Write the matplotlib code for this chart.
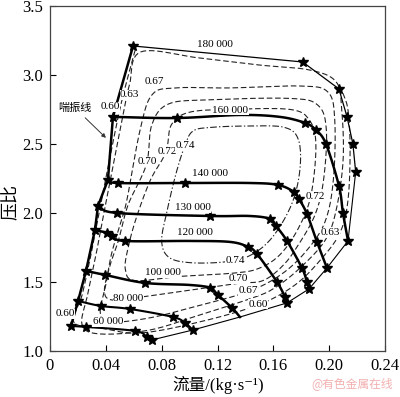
import numpy as np
import matplotlib
matplotlib.use('Agg')
import matplotlib.pyplot as plt

plt.rcParams['font.family'] = ['Liberation Serif', 'Noto Sans CJK SC', 'DejaVu Serif']

# speed lines (rpm): flow kg/s, pressure ratio, star marker flags
speeds = [180000, 160000, 140000, 130000, 120000, 100000, 80000, 60000]
speed_x = {
    180000: [0.0595, 0.181, 0.207, 0.2128, 0.217, 0.219],
    160000: [0.0451, 0.091, 0.136, 0.1648, 0.1827, 0.1905, 0.1977, 0.207, 0.2099, 0.2135],
    140000: [0.0415, 0.0487, 0.0967, 0.143, 0.1633, 0.1748, 0.1784, 0.1841, 0.1913, 0.1984],
    130000: [0.0344, 0.048, 0.1146, 0.143, 0.1576, 0.1619, 0.1698, 0.1805, 0.1841, 0.1855],
    120000: [0.0322, 0.0408, 0.0444, 0.0537, 0.1003, 0.129, 0.1418, 0.1483, 0.1626, 0.1683, 0.1698],
    100000: [0.0258, 0.0394, 0.068, 0.1003, 0.1146, 0.1203, 0.1304, 0.1361],
    80000: [0.0201, 0.0365, 0.0573, 0.0881, 0.0967, 0.1024],
    60000: [0.015, 0.0258, 0.0609, 0.0695, 0.0731],
}
speed_y = {
    180000: [3.21, 3.094, 2.899, 2.696, 2.50, 2.297],
    160000: [2.696, 2.688, 2.71, 2.696, 2.652, 2.601, 2.50, 2.196, 2.0, 1.797],
    140000: [2.239, 2.217, 2.217, 2.217, 2.203, 2.152, 2.101, 1.993, 1.790, 1.601],
    130000: [2.051, 2.0, 1.978, 1.978, 1.957, 1.906, 1.797, 1.601, 1.50, 1.449],
    120000: [1.877, 1.855, 1.833, 1.797, 1.797, 1.79, 1.754, 1.703, 1.50, 1.391, 1.348],
    100000: [1.580, 1.551, 1.493, 1.478, 1.457, 1.406, 1.312, 1.246],
    80000: [1.362, 1.326, 1.304, 1.246, 1.203, 1.152],
    60000: [1.181, 1.174, 1.145, 1.101, 1.080],
}
speed_star = {
    180000: [1, 1, 1, 1, 1, 1],
    160000: [1, 1, 0, 0, 1, 1, 1, 1, 1, 1],
    140000: [1, 1, 1, 0, 1, 1, 1, 1, 1, 1],
    130000: [1, 1, 1, 0, 1, 1, 1, 1, 1, 1],
    120000: [1, 1, 1, 1, 0, 0, 1, 1, 1, 1, 1],
    100000: [1, 1, 1, 0, 1, 1, 1, 0],
    80000: [1, 1, 1, 1, 1, 1],
    60000: [1, 1, 1, 1, 1],
}
speed_label_pos = {
    180000: (0.118, 3.222), 160000: (0.129, 2.746), 140000: (0.1146, 2.283),
    130000: (0.1024, 2.036), 120000: (0.104, 1.855), 100000: (0.081, 1.565),
    80000: (0.056, 1.377), 60000: (0.0415, 1.21),
}

# efficiency contours (closed loops except 0.60)
eff_074_x = [0.096, 0.102, 0.115, 0.143, 0.168, 0.178, 0.179, 0.173, 0.159, 0.143, 0.125, 0.100, 0.085, 0.080, 0.084, 0.090]
eff_074_y = [2.47, 2.59, 2.62, 2.63, 2.62, 2.53, 2.31, 2.06, 1.82, 1.69, 1.645, 1.64, 1.68, 1.80, 2.02, 2.275]
eff_072_x = [0.083, 0.087, 0.100, 0.129, 0.172, 0.186, 0.1905, 0.187, 0.178, 0.165, 0.150, 0.1325, 0.093, 0.061, 0.054, 0.056, 0.062, 0.072]
eff_072_y = [2.44, 2.64, 2.73, 2.75, 2.75, 2.67, 2.49, 2.13, 1.89, 1.70, 1.60, 1.565, 1.54, 1.51, 1.59, 1.75, 1.97, 2.24]
eff_070_x = [0.069, 0.073, 0.085, 0.115, 0.172, 0.192, 0.198, 0.196, 0.190, 0.178, 0.167, 0.1526, 0.135, 0.100, 0.0645, 0.044, 0.039, 0.043, 0.049, 0.056]
eff_070_y = [2.35, 2.64, 2.79, 2.82, 2.83, 2.78, 2.60, 2.24, 1.99, 1.77, 1.62, 1.51, 1.49, 1.44, 1.39, 1.37, 1.44, 1.62, 1.80, 2.06]
eff_067_x = [0.055, 0.0645, 0.073, 0.0895, 0.129, 0.179, 0.199, 0.204, 0.203, 0.197, 0.183, 0.165, 0.142, 0.107, 0.0716, 0.043, 0.036, 0.040, 0.044, 0.050]
eff_067_y = [2.09, 2.60, 2.855, 2.906, 2.906, 2.92, 2.877, 2.674, 2.24, 1.935, 1.717, 1.55, 1.43, 1.33, 1.24, 1.21, 1.28, 1.48, 1.70, 1.91]
eff_063_x = [0.065, 0.107, 0.150, 0.186, 0.205, 0.209, 0.210, 0.205, 0.197, 0.179, 0.161, 0.145, 0.107, 0.0716, 0.036, 0.023, 0.027, 0.033, 0.039, 0.046, 0.053, 0.057]
eff_063_y = [3.167, 3.123, 3.072, 3.036, 2.95, 2.746, 2.384, 2.02, 1.80, 1.60, 1.457, 1.384, 1.26, 1.152, 1.123, 1.19, 1.41, 1.70, 2.02, 2.38, 2.746, 2.93]
eff_060_x = [0.061, 0.0516, 0.044, 0.037, 0.030, 0.023, 0.017, 0.036, 0.0645, 0.107, 0.149, 0.1755, 0.195, 0.208, 0.2135, 0.215, 0.2135, 0.209]
eff_060_y = [3.18, 2.82, 2.457, 2.094, 1.73, 1.406, 1.21, 1.167, 1.13, 1.21, 1.333, 1.478, 1.674, 1.862, 2.094, 2.457, 2.746, 2.891]

eff_labels = ['0.60', '0.63', '0.67', '0.70', '0.72', '0.74', '0.72', '0.63', '0.74', '0.70', '0.67', '0.60', '0.60']
eff_label_x = [0.043, 0.057, 0.075, 0.0695, 0.0838, 0.0967, 0.190, 0.2006, 0.1325, 0.1347, 0.1418, 0.149, 0.0107]
eff_label_y = [2.77, 2.855, 2.949, 2.37, 2.442, 2.486, 2.116, 1.855, 1.652, 1.522, 1.435, 1.34, 1.268]


def catmull(px, py, closed=False, n=12):
    p = np.column_stack([px, py]).astype(float)
    if closed:
        p = np.vstack([p[-1], p, p[0], p[1]])
    else:
        p = np.vstack([2 * p[0] - p[1], p, 2 * p[-1] - p[-2]])
    t = np.linspace(0, 1, n, endpoint=False)[:, None]
    out = []
    for i in range(1, len(p) - 2):
        p0, p1, p2, p3 = p[i - 1], p[i], p[i + 1], p[i + 2]
        seg = 0.5 * (2 * p1 + (-p0 + p2) * t + (2 * p0 - 5 * p1 + 4 * p2 - p3) * t ** 2
                     + (-p0 + 3 * p1 - 3 * p2 + p3) * t ** 3)
        out.append(seg)
    out.append(p[-2][None])
    c = np.vstack(out)
    return c[:, 0], c[:, 1]


fig = plt.figure(figsize=(4.0, 3.97), dpi=100)
ax = fig.add_axes([0.125, 0.116, 0.8375, 0.869])

dash = (0, (5, 2.5))
contours = [(eff_074_x, eff_074_y, True, (0, (6, 2, 1.2, 2))),
            (eff_072_x, eff_072_y, True, dash),
            (eff_070_x, eff_070_y, True, dash),
            (eff_067_x, eff_067_y, True, dash),
            (eff_063_x, eff_063_y, True, dash),
            (eff_060_x, eff_060_y, False, dash)]
for cx, cy, closed, ls in contours:
    sx, sy = catmull(cx, cy, closed)
    ax.plot(sx, sy, color='#222222', lw=0.8, ls=ls, zorder=2)

# speed lines
for s in speeds:
    x, y = speed_x[s], speed_y[s]
    if s == 180000:
        ax.plot(x, y, color='black', lw=0.9, zorder=3)
    else:
        sx, sy = catmull(x, y)
        ax.plot(sx, sy, color='black', lw=1.8 if s >= 100000 else 1.5, zorder=3)
    mx = [a for a, f in zip(x, speed_star[s]) if f]
    my = [b for b, f in zip(y, speed_star[s]) if f]
    ax.plot(mx, my, ls='none', marker='*', ms=7, color='black', zorder=4)
    lx, ly = speed_label_pos[s]
    ax.text(lx, ly, f'{s // 1000} 000', fontsize=8, ha='center', va='center', zorder=5,
            bbox=dict(facecolor='white', edgecolor='none', pad=0.3))

# surge line and choke line
ax.plot([speed_x[s][0] for s in speeds], [speed_y[s][0] for s in speeds], color='black', lw=1.8, zorder=3)
ax.plot([speed_x[s][-1] for s in speeds], [speed_y[s][-1] for s in speeds], color='black', lw=0.8, zorder=3)

for t, x, y in zip(eff_labels, eff_label_x, eff_label_y):
    ax.text(x, y, t, fontsize=8, ha='center', va='center', zorder=5,
            bbox=dict(facecolor='white', edgecolor='none', pad=0.2))

ax.annotate('喘振线', xy=(0.0415, 2.53), xytext=(0.018, 2.76), fontsize=8, ha='center', va='center',
            arrowprops=dict(arrowstyle='-|>', lw=0.7, color='#333333', mutation_scale=6))

ax.set_xlim(0, 0.24)
ax.set_ylim(1.0, 3.5)
ax.set_xticks([0, 0.04, 0.08, 0.12, 0.16, 0.20, 0.24])
ax.set_xticklabels(['0', '0.04', '0.08', '0.12', '0.16', '0.20', '0.24'])
ax.set_yticks([1.0, 1.5, 2.0, 2.5, 3.0, 3.5])
ax.set_yticklabels(['1.0', '1.5', '2.0', '2.5', '3.0', '3.5'])
ax.tick_params(direction='in', length=4, labelsize=12, width=0.8)
ax.tick_params(axis='x', pad=5)
ax.tick_params(axis='y', pad=5)
for sp in ax.spines.values():
    sp.set_linewidth(0.9)
    sp.set_color('#444444')

fig.text(0.545, 0.03, '流量/(kg·s⁻¹)', fontsize=12, ha='center', va='center')
fig.text(0.028, 0.49, '压比', fontsize=13, rotation=90, ha='center', va='center')
fig.text(0.88, 0.035, '@有色金属在线', fontsize=8.5, color='#f2b0b0', ha='center', va='center',
         family='Noto Sans CJK SC')

fig.savefig('out.png', dpi=100)
